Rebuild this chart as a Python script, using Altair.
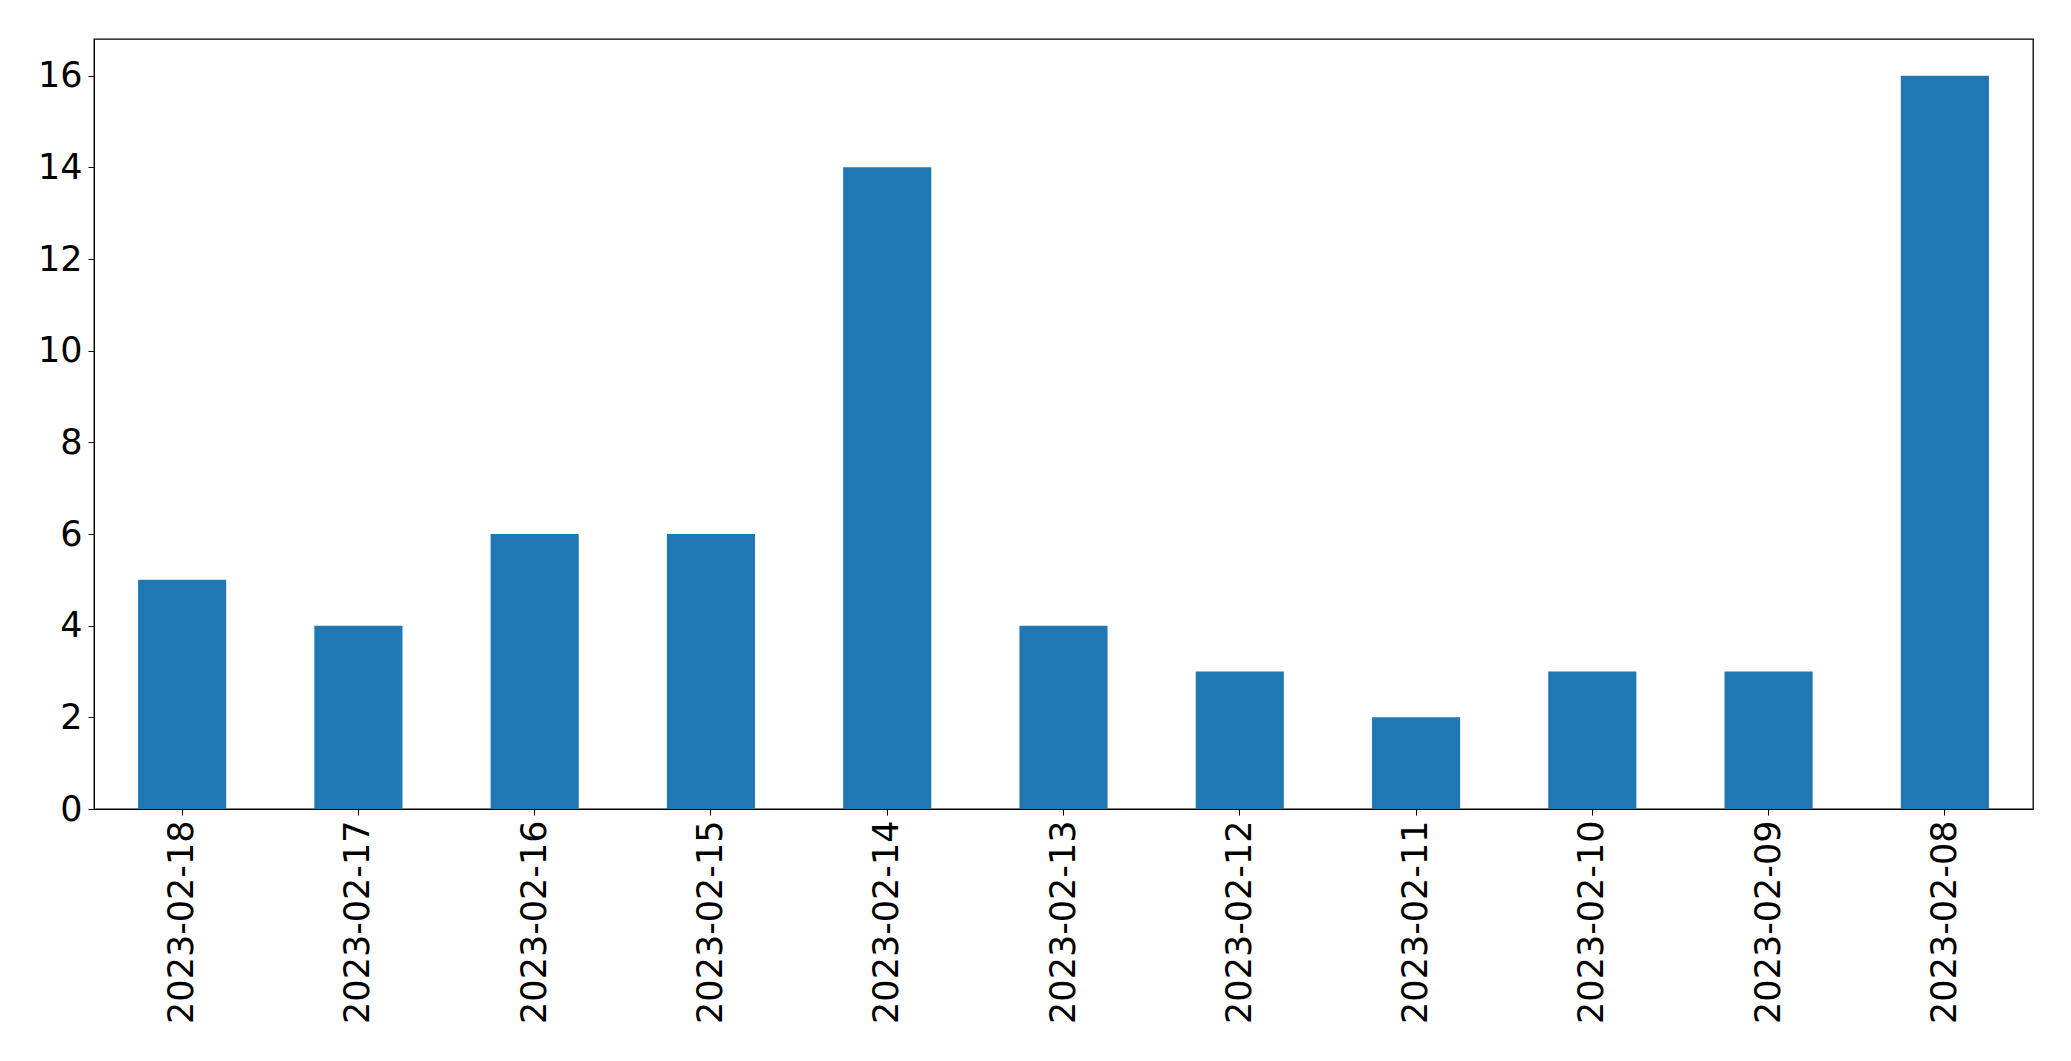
import altair as alt
import pandas as pd

dates = ["2023-02-18", "2023-02-17", "2023-02-16", "2023-02-15", "2023-02-14",
         "2023-02-13", "2023-02-12", "2023-02-11", "2023-02-10", "2023-02-09",
         "2023-02-08"]
counts = [5, 4, 6, 6, 14, 4, 3, 2, 3, 3, 16]
y_ticks = [0, 2, 4, 6, 8, 10, 12, 14, 16]

df = pd.DataFrame({"date": dates, "count": counts})

chart = alt.Chart(df).mark_bar(color="#1f77b4").encode(
    x=alt.X("date:N", sort=dates, title=None,
            scale=alt.Scale(paddingInner=0.5, paddingOuter=0.25),
            axis=alt.Axis(labelAngle=270, labelFontSize=35, labelFont="DejaVu Sans",
                          labelColor="black", tickColor="black", tickSize=6,
                          labelLimit=1000,
                          labelPadding=5, domainColor="black", grid=False)),
    y=alt.Y("count:Q", title=None,
            scale=alt.Scale(domain=[0, 16.8], nice=False, zero=True),
            axis=alt.Axis(values=y_ticks, labelFontSize=35, labelFont="DejaVu Sans",
                          labelColor="black", tickColor="black", tickSize=6,
                          labelPadding=6, domainColor="black", grid=False)),
).properties(
    width=1939, height=770,
    autosize=alt.AutoSizeParams(type="none"),
    padding={"left": 86, "top": 31, "right": 30, "bottom": 240},
).configure_view(stroke="black", strokeWidth=1.3)

chart.save("out.html", embed_options={"renderer": "svg", "actions": False})
